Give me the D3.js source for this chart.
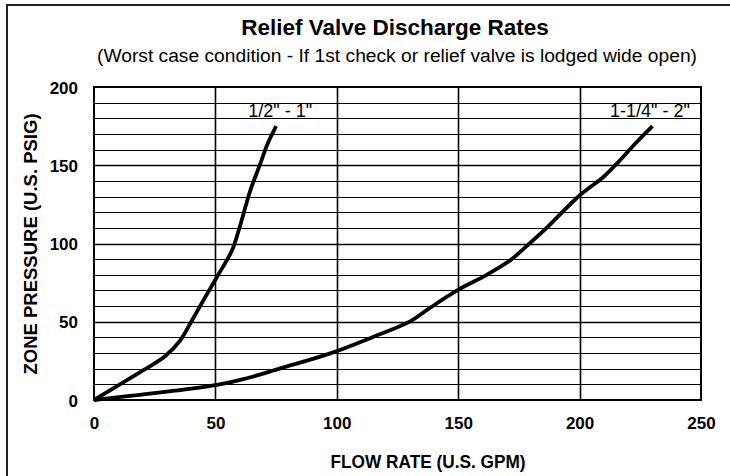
<!DOCTYPE html>
<html>
<head>
<meta charset="utf-8">
<script src="https://cdn.jsdelivr.net/npm/d3@7"></script>
<style>
  body { margin: 0; background: #fff; }
  svg { display: block; }
  text { font-family: "Liberation Sans", Arial, sans-serif; fill: #000; }
</style>
</head>
<body>
<svg id="chart" width="730" height="476"></svg>
<script>
// ---- Data ----
const xTicks = [0, 50, 100, 150, 200, 250];
const yTicks = [0, 50, 100, 150, 200];
const seriesNames = ["1/2\" - 1\"", "1-1/4\" - 2\""];
const smallFlow = [0, 20.5, 29.4, 35.6, 40.4, 45.9, 50.7, 56.9, 59.8, 64.4, 68.5, 71.3, 75];
const smallPressure = [0, 19.2, 28.1, 38.3, 51, 66, 78.8, 95.8, 109.5, 134, 151, 163, 175];
const largeFlow = [0, 50.7, 63, 76.7, 97.3, 115.1, 130.2, 138.5, 150.1, 161.8, 171.4, 178.3, 185.1, 200.2, 209.8, 215.3, 222.1, 230];
const largePressure = [0, 9.6, 13.9, 20.2, 29.8, 40.4, 50.2, 59, 70.5, 80, 89.2, 98.5, 108, 131, 142.5, 151, 162.5, 175];
const labelFlow = [76.7, 229];
const labelPressure = [185, 185];

const svg = d3.select("#chart");
const plot = { left: 94, right: 701, top: 87, bottom: 400 };

// outer frame
svg.append("rect").attr("x", 7).attr("y", 5).attr("width", 740).attr("height", 490)
  .attr("fill", "none").attr("stroke", "#222").attr("stroke-width", 2);

const x = d3.scaleLinear().domain([0, 250]).range([plot.left, plot.right]);
const y = d3.scaleLinear().domain([0, 200]).range([plot.bottom, plot.top]);

// horizontal grid every 10
const hGrid = d3.range(10, 200, 10);
svg.append("g").selectAll("line").data(hGrid).join("line")
  .attr("x1", plot.left).attr("x2", plot.right)
  .attr("y1", d => Math.round(y(d)) + 0.5).attr("y2", d => Math.round(y(d)) + 0.5)
  .attr("stroke", "#000").attr("stroke-width", d => d % 50 === 0 ? 1.6 : 1);

// vertical grid at 50s
svg.append("g").selectAll("line").data(xTicks.slice(1, -1)).join("line")
  .attr("y1", plot.top).attr("y2", plot.bottom)
  .attr("x1", d => Math.round(x(d)) + 0.5).attr("x2", d => Math.round(x(d)) + 0.5)
  .attr("stroke", "#000").attr("stroke-width", 1.6);

// plot border
svg.append("rect").attr("x", plot.left).attr("y", plot.top)
  .attr("width", plot.right - plot.left).attr("height", plot.bottom - plot.top)
  .attr("fill", "none").attr("stroke", "#000").attr("stroke-width", 2);

// axes tick labels
const xAxis = d3.axisBottom(x).tickValues(xTicks).tickSize(0).tickPadding(0);
const gx = svg.append("g").attr("transform", `translate(0,${plot.bottom + 29})`).call(xAxis);
gx.select(".domain").remove();
gx.selectAll("text").attr("dy", 0).attr("font-size", 17).attr("font-weight", "bold")
  .style("font-family", "'Liberation Sans', Arial, sans-serif");

const yAxis = d3.axisLeft(y).tickValues(yTicks).tickSize(0).tickPadding(0);
const gy = svg.append("g").attr("transform", `translate(${plot.left - 16},0)`).call(yAxis);
gy.select(".domain").remove();
gy.selectAll("text").attr("dy", "0.36em").attr("font-size", 17).attr("font-weight", "bold")
  .style("font-family", "'Liberation Sans', Arial, sans-serif");

// curves
const line = d3.line().x(d => x(d[0])).y(d => y(d[1])).curve(d3.curveCatmullRom.alpha(0.5));
const s1 = smallFlow.map((f, i) => [f, smallPressure[i]]);
const s2 = largeFlow.map((f, i) => [f, largePressure[i]]);
[s1, s2].forEach(s => {
  svg.append("path").datum(s).attr("d", line)
    .attr("fill", "none").attr("stroke", "#000").attr("stroke-width", 3.8)
    .attr("stroke-linejoin", "round");
});

// series labels with white background
seriesNames.forEach((name, i) => {
  const g = svg.append("g");
  const t = g.append("text").attr("x", x(labelFlow[i])).attr("y", y(labelPressure[i]))
    .attr("text-anchor", "middle").attr("dy", "0.36em").attr("font-size", 18).text(name);
  const bb = t.node().getBBox();
  g.insert("rect", "text").attr("x", bb.x - 3).attr("y", Math.round(y(190)) + 1)
    .attr("width", bb.width + 6).attr("height", Math.round(y(180)) - Math.round(y(190)) - 1)
    .attr("fill", "#fff");
});

// titles
svg.append("text").attr("x", 395).attr("y", 35).attr("text-anchor", "middle")
  .attr("font-size", 22.5).attr("font-weight", "bold").text("Relief Valve Discharge Rates");
svg.append("text").attr("x", 397).attr("y", 62).attr("text-anchor", "middle")
  .attr("font-size", 18).attr("textLength", 600).attr("lengthAdjust", "spacingAndGlyphs")
  .text("(Worst case condition - If 1st check or relief valve is lodged wide open)");

svg.append("text").attr("x", 428).attr("y", 468).attr("text-anchor", "middle")
  .attr("font-size", 18).attr("font-weight", "bold").attr("textLength", 195)
  .attr("lengthAdjust", "spacingAndGlyphs").text("FLOW RATE (U.S. GPM)");
svg.append("text").attr("transform", `translate(37,244) rotate(-90)`).attr("text-anchor", "middle")
  .attr("font-size", 18.5).attr("font-weight", "bold").text("ZONE PRESSURE (U.S. PSIG)");
</script>
</body>
</html>
